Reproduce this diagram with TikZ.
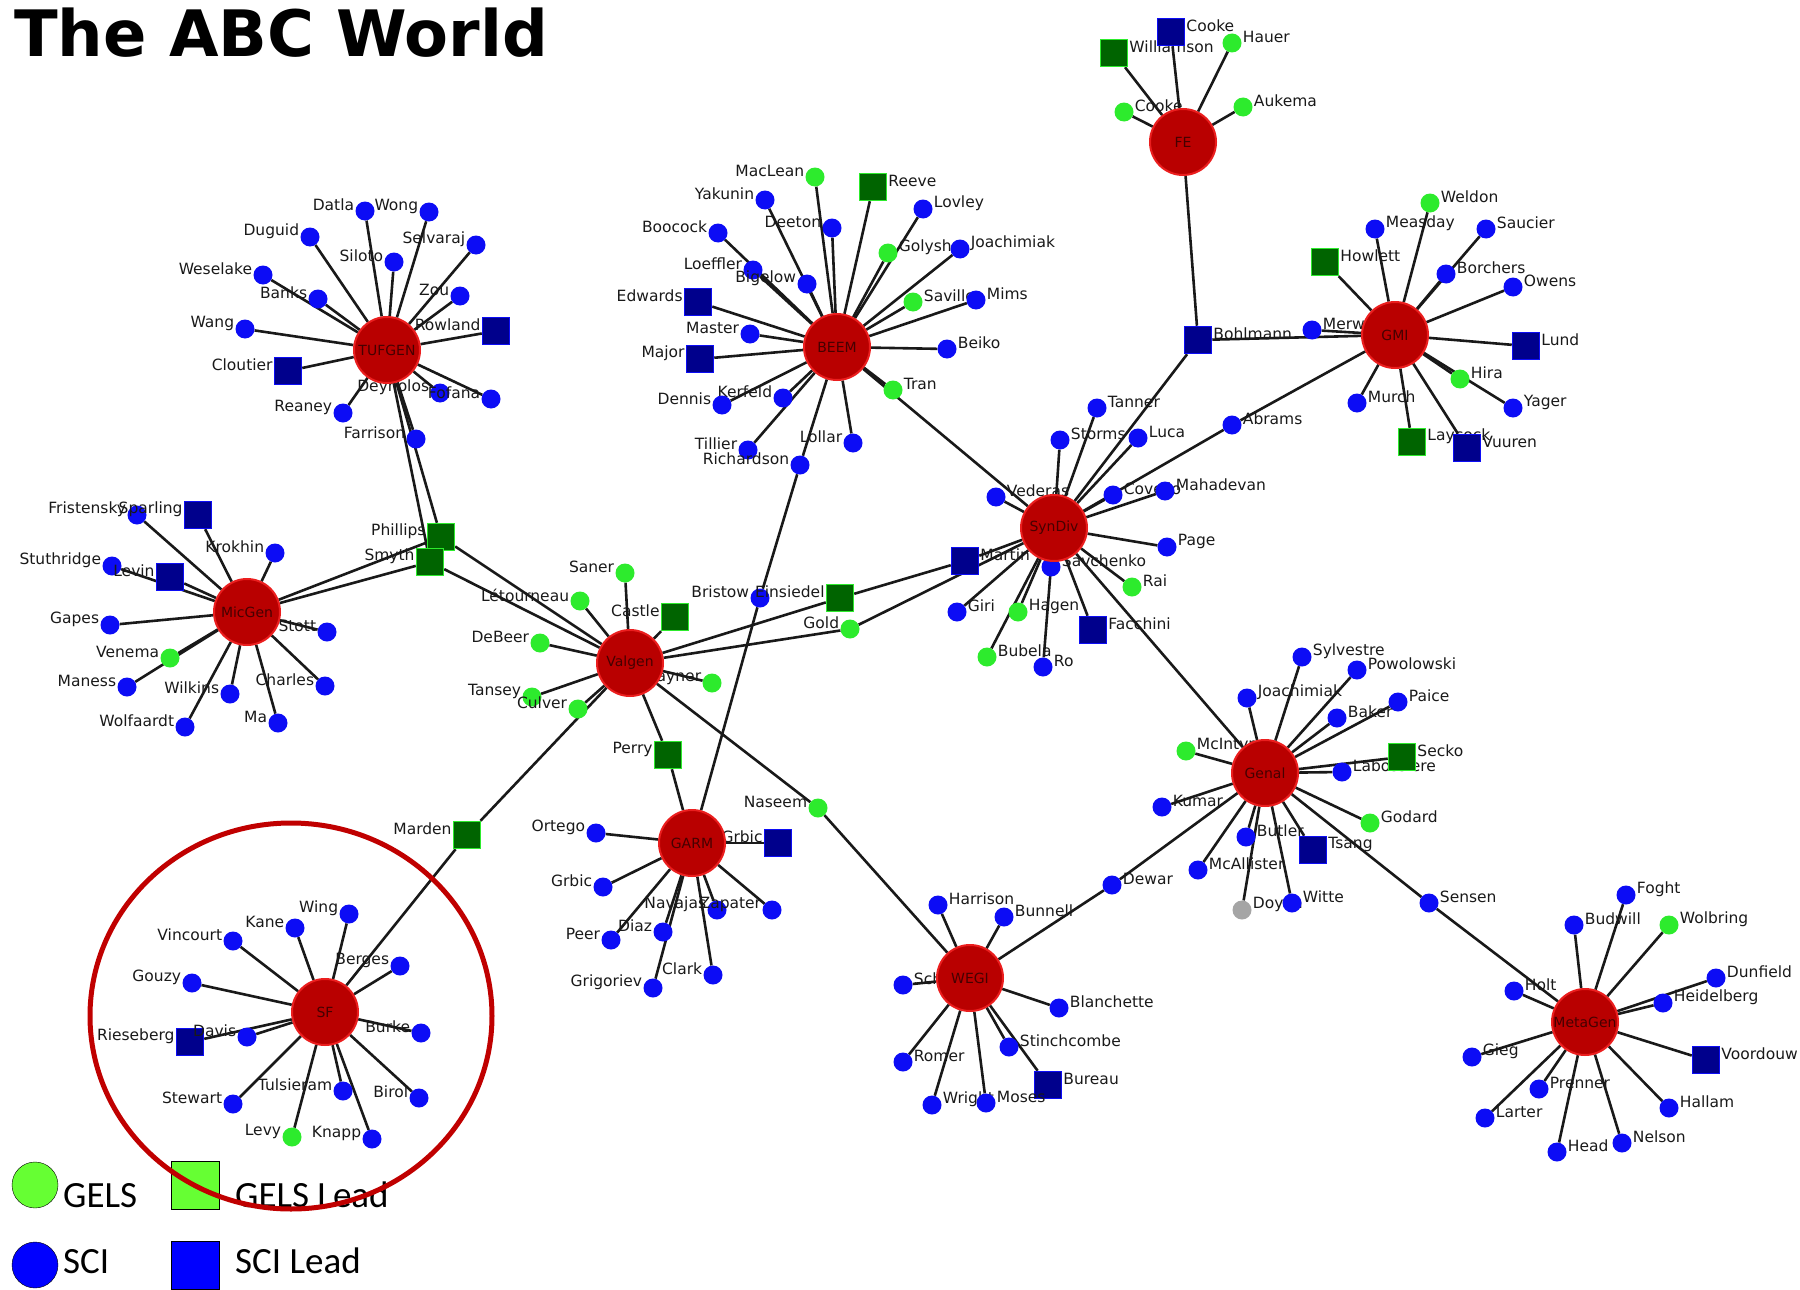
\documentclass[tikz,border=0pt]{standalone}
\usepackage{fontspec}
\setmainfont{DejaVu Sans}
\newfontfamily\legendfont{Carlito}
\definecolor{sciblue}{RGB}{12,12,245}
\definecolor{scidark}{RGB}{0,0,140}
\definecolor{gelsgreen}{RGB}{45,235,45}
\definecolor{gelsdark}{RGB}{0,100,0}
\definecolor{othergrey}{RGB}{165,165,165}
\definecolor{hubred}{RGB}{185,0,0}
\definecolor{hubrim}{RGB}{235,30,30}
\definecolor{hubtext}{RGB}{70,0,0}
\definecolor{ringred}{RGB}{192,0,0}
\definecolor{keygreen}{RGB}{102,255,51}
\definecolor{keyblue}{RGB}{0,0,255}
\pgfdeclarelayer{bg}
\pgfsetlayers{bg,main}
\tikzset{
  leaf/.style={circle, minimum size=19pt, inner sep=0pt, label distance=2pt},
  sci/.style={leaf, fill=sciblue},
  gels/.style={leaf, fill=gelsgreen},
  other/.style={leaf, fill=othergrey},
  lead/.style={rectangle, minimum size=27pt, inner sep=0pt, line width=1.5pt, label distance=1pt},
  scilead/.style={lead, fill=scidark, draw=sciblue},
  gelslead/.style={lead, fill=gelsdark, draw=gelsgreen},
  hub/.style={circle, minimum size=66pt, inner sep=0pt, fill=hubred, draw=hubrim,
    line width=2pt, text=hubtext, font=\fontsize{14}{16}\selectfont},
  lbl/.style={font=\fontsize{15.5}{18}\selectfont, inner sep=1pt, yshift=6pt, text=black!90},
  lft/.style={label={[lbl]left:#1}},
  rgt/.style={label={[lbl]right:#1}},
  edge/.style={line width=2.6pt, black!90},
  keytext/.style={anchor=base west, inner sep=0pt, font=\legendfont\fontsize{37}{40}\selectfont},
}
\begin{document}
\begin{tikzpicture}[x=1pt,y=-1pt]
  \useasboundingbox (0,0) rectangle (1800,1290);
  \node[anchor=base west, inner sep=0pt, font=\bfseries\fontsize{64}{70}\selectfont] (title) at (14,57) {The ABC World};

  % TUFGEN
  \node[sci,lft=Datla] (datla) at (365,211) {};
  \node[sci,lft=Wong] (wong) at (429,212) {};
  \node[sci,lft=Duguid] (duguid) at (310,237) {};
  \node[sci,lft=Selvaraj] (selvaraj) at (476,245) {};
  \node[sci,lft=Siloto] (siloto) at (394,262) {};
  \node[sci,lft=Weselake] (weselake) at (263,275) {};
  \node[sci,lft=Banks] (banks) at (318,299) {};
  \node[sci,lft=Zou] (zou) at (460,296) {};
  \node[sci,lft=Wang] (wang) at (245,329) {};
  \node[scilead,lft=Rowland] (rowland) at (496,331) {};
  \node[scilead,lft=Cloutier] (cloutier) at (288,371) {};
  \node[sci,lft=Deyholos] (deyholos) at (440,393) {};
  \node[sci,lft=Fofana] (fofana) at (491,399) {};
  \node[sci,lft=Reaney] (reaney) at (343,413) {};
  \node[sci,lft=Farrison] (farrison) at (416,439) {};
  \node[gelslead,lft=Phillips] (phillips) at (441,537) {};
  \node[gelslead,lft=Smyth] (smyth) at (430,562) {};

  % BEEM
  \node[gels,lft=MacLean] (maclean) at (815,177) {};
  \node[gelslead,rgt=Reeve] (reeve) at (873,187) {};
  \node[sci,lft=Yakunin] (yakunin) at (765,200) {};
  \node[sci,rgt=Lovley] (lovley) at (923,209) {};
  \node[sci,lft=Deeton] (deeton) at (832,228) {};
  \node[sci,lft=Boocock] (boocock) at (718,233) {};
  \node[gels,rgt=Golysh] (golysh) at (888,253) {};
  \node[sci,rgt=Joachimiak] (joachimiakA) at (960,249) {};
  \node[sci,lft=Loeffler] (loeffler) at (753,270) {};
  \node[sci,lft=Bigelow] (bigelow) at (807,284) {};
  \node[gels,rgt=Saville] (saville) at (913,302) {};
  \node[sci,rgt=Mims] (mims) at (976,300) {};
  \node[scilead,lft=Edwards] (edwards) at (698,302) {};
  \node[sci,lft=Master] (master) at (750,334) {};
  \node[sci,rgt=Beiko] (beiko) at (947,349) {};
  \node[scilead,lft=Major] (major) at (700,359) {};
  \node[gels,rgt=Tran] (tran) at (893,390) {};
  \node[sci,lft=Kerfeld] (kerfeld) at (783,398) {};
  \node[sci,lft=Dennis] (dennis) at (722,405) {};
  \node[sci,lft=Lollar] (lollar) at (853,443) {};
  \node[sci,lft=Tillier] (tillier) at (748,450) {};
  \node[sci,lft=Richardson] (richardson) at (800,465) {};

  % FE
  \node[gelslead,rgt=Williamson] (williamson) at (1114,53) {};
  \node[scilead,rgt=Cooke] (cookeA) at (1171,32) {};
  \node[gels,rgt=Hauer] (hauer) at (1232,43) {};
  \node[gels,rgt=Cooke] (cookeB) at (1124,112) {};
  \node[gels,rgt=Aukema] (aukema) at (1243,107) {};
  \node[scilead,rgt=Bohlmann] (bohlmann) at (1198,340) {};

  % GMI
  \node[gels,rgt=Weldon] (weldon) at (1430,203) {};
  \node[sci,rgt=Measday] (measday) at (1375,229) {};
  \node[sci,rgt=Saucier] (saucier) at (1486,229) {};
  \node[gelslead,rgt=Howlett] (howlett) at (1325,262) {};
  \node[sci,rgt=Borchers] (borchers) at (1446,274) {};
  \node[sci,rgt=Owens] (owens) at (1513,287) {};
  \node[sci,rgt=Merwe] (merwe) at (1312,330) {};
  \node[scilead,rgt=Lund] (lund) at (1526,346) {};
  \node[gels,rgt=Hira] (hira) at (1460,379) {};
  \node[sci,rgt=Yager] (yager) at (1513,408) {};
  \node[sci,rgt=Murch] (murch) at (1357,403) {};
  \node[gelslead,rgt=Laycock] (laycock) at (1412,442) {};
  \node[scilead,rgt=Vuuren] (vuuren) at (1467,448) {};
  \node[sci,rgt=Abrams] (abrams) at (1232,425) {};

  % SynDiv
  \node[sci,rgt=Tanner] (tanner) at (1097,408) {};
  \node[sci,rgt=Storms] (storms) at (1060,440) {};
  \node[sci,rgt=Luca] (luca) at (1138,438) {};
  \node[sci,rgt=Vederas] (vederas) at (996,497) {};
  \node[sci,rgt=Covello] (covello) at (1113,495) {};
  \node[sci,rgt=Mahadevan] (mahadevan) at (1165,491) {};
  \node[sci,rgt=Page] (page) at (1167,547) {};
  \node[scilead,rgt=Martin] (martin) at (965,561) {};
  \node[sci,rgt=Savchenko] (savchenko) at (1051,567) {};
  \node[gels,rgt=Rai] (rai) at (1132,587) {};
  \node[sci,rgt=Giri] (giri) at (957,612) {};
  \node[gels,rgt=Hagen] (hagen) at (1018,612) {};
  \node[scilead,rgt=Facchini] (facchini) at (1093,630) {};
  \node[gels,rgt=Bubela] (bubela) at (987,657) {};
  \node[sci,rgt=Ro] (ro) at (1043,667) {};

  % Genal
  \node[sci,rgt=Sylvestre] (sylvestre) at (1302,657) {};
  \node[sci,rgt=Powolowski] (powolowski) at (1357,670) {};
  \node[sci,rgt=Joachimiak] (joachimiakB) at (1247,698) {};
  \node[sci,rgt=Paice] (paice) at (1398,702) {};
  \node[sci,rgt=Baker] (baker) at (1337,718) {};
  \node[gels,rgt=McIntyre] (mcintyre) at (1186,751) {};
  \node[sci,rgt=Labossiere] (labossiere) at (1342,772) {};
  \node[gelslead,rgt=Secko] (secko) at (1402,757) {};
  \node[sci,rgt=Kumar] (kumar) at (1162,807) {};
  \node[gels,rgt=Godard] (godard) at (1370,823) {};
  \node[sci,rgt=Butler] (butler) at (1246,837) {};
  \node[scilead,rgt=Tsang] (tsang) at (1313,850) {};
  \node[sci,rgt=McAllister] (mcallister) at (1198,870) {};
  \node[sci,rgt=Dewar] (dewar) at (1112,885) {};
  \node[other,rgt=Doyon] (doyon) at (1242,910) {};
  \node[sci,rgt=Witte] (witte) at (1292,903) {};
  \node[sci,rgt=Sensen] (sensen) at (1429,903) {};

  % WEGI
  \node[sci,rgt=Harrison] (harrison) at (938,905) {};
  \node[sci,rgt=Bunnell] (bunnell) at (1004,917) {};
  \node[sci,rgt=Schmidt] (schmidt) at (903,985) {};
  \node[sci,rgt=Blanchette] (blanchette) at (1059,1008) {};
  \node[sci,rgt=Stinchcombe] (stinchcombe) at (1009,1047) {};
  \node[sci,rgt=Romer] (romer) at (903,1062) {};
  \node[scilead,rgt=Bureau] (bureau) at (1048,1085) {};
  \node[sci,rgt=Wright] (wright) at (932,1105) {};
  \node[sci,rgt=Moses] (moses) at (986,1103) {};

  % Valgen
  \node[gels,lft=Saner] (saner) at (625,573) {};
  \node[gels,lft=Létourneau] (letourneau) at (580,601) {};
  \node[gelslead,lft=Castle] (castle) at (675,617) {};
  \node[gels,lft=DeBeer] (debeer) at (540,643) {};
  \node[gels,lft=Rayner] (rayner) at (712,683) {};
  \node[gels,lft=Tansey] (tansey) at (532,697) {};
  \node[gels,lft=Culver] (culver) at (578,709) {};
  \node[gelslead,lft=Perry] (perry) at (668,755) {};
  \node[gels,lft=Naseem] (naseem) at (818,808) {};
  \node[sci,lft=Bristow] (bristow) at (760,598) {};
  \node[gelslead,lft=Einsiedel] (einsiedel) at (840,598) {};
  \node[gels,lft=Gold] (gold) at (850,629) {};
  \node[gelslead,lft=Marden] (marden) at (467,835) {};

  % MicGen
  \node[sci,lft=Fristensky] (fristensky) at (137,515) {};
  \node[scilead,lft=Sparling] (sparling) at (198,515) {};
  \node[sci,lft=Krokhin] (krokhin) at (275,553) {};
  \node[sci,lft=Stuthridge] (stuthridge) at (112,566) {};
  \node[scilead,lft=Levin] (levin) at (170,577) {};
  \node[sci,lft=Gapes] (gapes) at (110,625) {};
  \node[sci,lft=Stott] (stott) at (327,632) {};
  \node[gels,lft=Venema] (venema) at (170,658) {};
  \node[sci,lft=Maness] (maness) at (127,687) {};
  \node[sci,lft=Charles] (charles) at (325,686) {};
  \node[sci,lft=Wilkins] (wilkins) at (230,694) {};
  \node[sci,lft=Ma] (ma) at (278,723) {};
  \node[sci,lft=Wolfaardt] (wolfaardt) at (185,727) {};

  % GARM
  \node[sci,lft=Ortego] (ortego) at (596,833) {};
  \node[scilead,lft=Grbic] (grbicA) at (778,843) {};
  \node[sci,lft=Grbic] (grbicB) at (603,887) {};
  \node[sci,lft=Navajas] (navajas) at (717,910) {};
  \node[sci,lft=Zapater] (zapater) at (772,910) {};
  \node[sci,lft=Diaz] (diaz) at (663,932) {};
  \node[sci,lft=Peer] (peer) at (611,940) {};
  \node[sci,lft=Clark] (clark) at (713,975) {};
  \node[sci,lft=Grigoriev] (grigoriev) at (653,988) {};

  % SF
  \node[sci,lft=Wing] (wing) at (349,914) {};
  \node[sci,lft=Kane] (kane) at (295,928) {};
  \node[sci,lft=Vincourt] (vincourt) at (233,941) {};
  \node[sci,lft=Berges] (berges) at (400,966) {};
  \node[sci,lft=Gouzy] (gouzy) at (192,983) {};
  \node[sci,lft=Burke] (burke) at (421,1033) {};
  \node[scilead,lft=Rieseberg] (rieseberg) at (190,1042) {};
  \node[sci,lft=Davis] (davis) at (247,1037) {};
  \node[sci,lft=Tulsieram] (tulsieram) at (343,1091) {};
  \node[sci,lft=Birol] (birol) at (419,1098) {};
  \node[sci,lft=Stewart] (stewart) at (233,1104) {};
  \node[gels,lft=Levy] (levy) at (292,1137) {};
  \node[sci,lft=Knapp] (knapp) at (372,1139) {};

  % MetaGen
  \node[sci,rgt=Foght] (foght) at (1626,895) {};
  \node[sci,rgt=Budwill] (budwill) at (1574,925) {};
  \node[gels,rgt=Wolbring] (wolbring) at (1669,925) {};
  \node[sci,rgt=Dunfield] (dunfield) at (1716,978) {};
  \node[sci,rgt=Holt] (holt) at (1514,991) {};
  \node[sci,rgt=Heidelberg] (heidelberg) at (1663,1003) {};
  \node[sci,rgt=Gieg] (gieg) at (1472,1057) {};
  \node[scilead,rgt=Voordouw] (voordouw) at (1706,1060) {};
  \node[sci,rgt=Prenner] (prenner) at (1539,1089) {};
  \node[sci,rgt=Hallam] (hallam) at (1669,1108) {};
  \node[sci,rgt=Larter] (larter) at (1485,1118) {};
  \node[sci,rgt=Head] (head) at (1557,1152) {};
  \node[sci,rgt=Nelson] (nelson) at (1622,1143) {};

  % hubs
  \node[hub] (tufgen) at (387,350) {TUFGEN};
  \node[hub] (beem) at (837,347) {BEEM};
  \node[hub] (fe) at (1183,142) {FE};
  \node[hub] (gmi) at (1395,335) {GMI};
  \node[hub] (micgen) at (247,612) {MicGen};
  \node[hub] (valgen) at (630,663) {Valgen};
  \node[hub] (syndiv) at (1054,528) {SynDiv};
  \node[hub] (garm) at (692,843) {GARM};
  \node[hub] (genal) at (1265,773) {Genal};
  \node[hub] (wegi) at (970,978) {WEGI};
  \node[hub] (sf) at (325,1012) {SF};
  \node[hub] (metagen) at (1585,1022) {MetaGen};

  \begin{pgfonlayer}{bg}
    \foreach \n in {datla,wong,duguid,selvaraj,siloto,weselake,banks,zou,wang,rowland,
      cloutier,deyholos,fofana,reaney,farrison,phillips,smyth}
      \draw[edge] (tufgen) -- (\n);
    \foreach \n in {maclean,reeve,yakunin,lovley,deeton,boocock,golysh,joachimiakA,loeffler,
      bigelow,saville,mims,edwards,master,beiko,major,tran,kerfeld,dennis,lollar,tillier,
      richardson,syndiv}
      \draw[edge] (beem) -- (\n);
    \foreach \n in {williamson,cookeA,hauer,cookeB,aukema,bohlmann}
      \draw[edge] (fe) -- (\n);
    \foreach \n in {weldon,measday,saucier,howlett,borchers,owens,merwe,lund,hira,yager,
      murch,laycock,vuuren,abrams,bohlmann}
      \draw[edge] (gmi) -- (\n);
    \foreach \n in {tanner,storms,luca,vederas,covello,mahadevan,page,martin,savchenko,rai,
      giri,hagen,facchini,bubela,ro,abrams,bohlmann,gold,genal}
      \draw[edge] (syndiv) -- (\n);
    \foreach \n in {sylvestre,powolowski,joachimiakB,paice,baker,mcintyre,labossiere,secko,
      kumar,godard,butler,tsang,mcallister,dewar,doyon,witte,sensen}
      \draw[edge] (genal) -- (\n);
    \foreach \n in {harrison,bunnell,schmidt,blanchette,stinchcombe,romer,bureau,wright,
      moses,dewar,naseem}
      \draw[edge] (wegi) -- (\n);
    \foreach \n in {saner,letourneau,castle,debeer,rayner,tansey,culver,perry,naseem,
      einsiedel,gold,marden,phillips,smyth}
      \draw[edge] (valgen) -- (\n);
    \foreach \n in {fristensky,sparling,krokhin,stuthridge,levin,gapes,stott,venema,maness,
      charles,wilkins,ma,wolfaardt,phillips,smyth}
      \draw[edge] (micgen) -- (\n);
    \foreach \n in {ortego,grbicA,grbicB,navajas,zapater,diaz,peer,clark,grigoriev,perry,
      bristow}
      \draw[edge] (garm) -- (\n);
    \foreach \n in {wing,kane,vincourt,berges,gouzy,burke,rieseberg,davis,tulsieram,birol,
      stewart,levy,knapp,marden}
      \draw[edge] (sf) -- (\n);
    \foreach \n in {foght,budwill,wolbring,dunfield,holt,heidelberg,gieg,voordouw,prenner,
      hallam,larter,head,nelson,sensen}
      \draw[edge] (metagen) -- (\n);
    \draw[edge] (bristow) -- (richardson);
    \draw[edge] (einsiedel) -- (martin);
  \end{pgfonlayer}

  % legend
  \node[circle, minimum size=46pt, inner sep=0pt, fill=keygreen, draw=black] (kgels) at (35,1185) {};
  \node[keytext] (tgels) at (63,1207) {GELS};
  \node[rectangle, minimum size=48pt, inner sep=0pt, fill=keygreen, draw=black] (kgelslead) at (195,1185) {};
  \node[keytext] (tgelslead) at (235,1207) {GELS Lead};
  \node[circle, minimum size=46pt, inner sep=0pt, fill=keyblue, draw=black] (ksci) at (35,1265) {};
  \node[keytext] (tsci) at (63,1273) {SCI};
  \node[rectangle, minimum size=48pt, inner sep=0pt, fill=keyblue, draw=black] (kscilead) at (195,1265) {};
  \node[keytext] (tscilead) at (235,1273) {SCI Lead};

  % ring round SF
  \draw[ringred, line width=5pt] (291,1016) ellipse [x radius=201, y radius=193];
\end{tikzpicture}
\end{document}
